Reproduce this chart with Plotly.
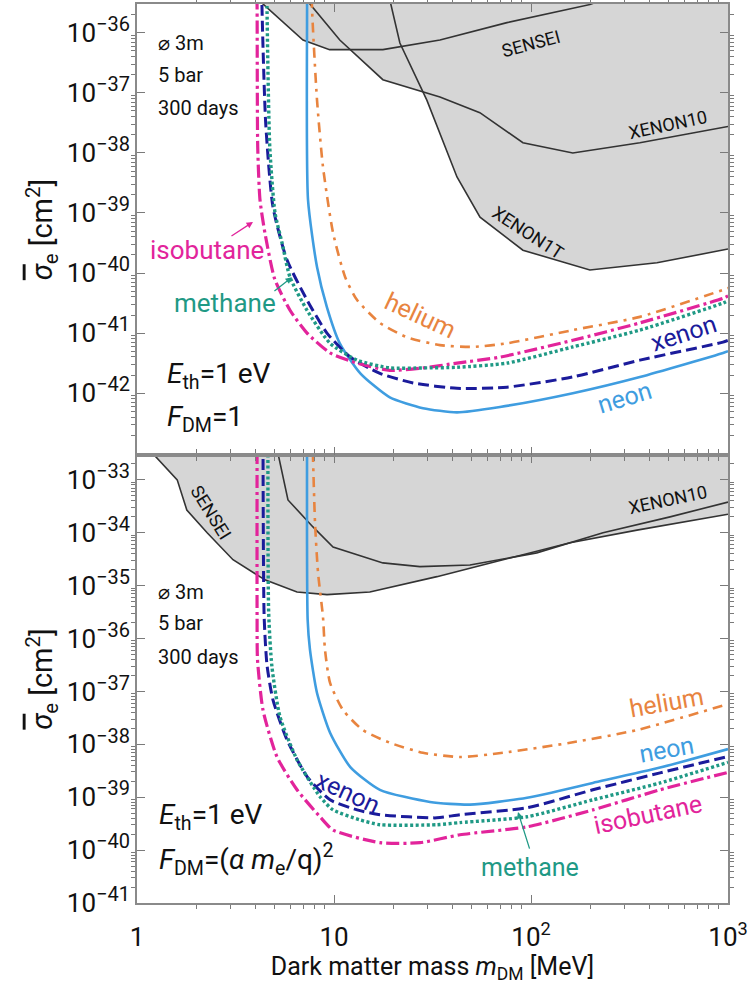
import numpy as np
import plotly.graph_objects as go

# ---------------- data (mass in MeV, log10 of cross-section in cm^2) ----------------
# Top panel: F_DM = 1
top_iso_m   = [4.05, 4.07, 4.10, 4.21, 4.46, 5.0, 5.98, 7.30, 9.55, 13.1, 19.2, 28.3, 42.1, 69.6, 163, 357, 944, 1000]
top_iso_s   = [-35.0, -35.57, -37.9, -38.78, -39.33, -40.1, -40.62, -41.0, -41.33, -41.5, -41.62, -41.58, -41.5, -41.4, -41.12, -40.83, -40.42, -40.38]
top_xe_m    = [4.30, 4.31, 4.50, 4.90, 5.77, 7.30, 9.21, 12.1, 17.1, 25.2, 42.1, 75.5, 163, 357, 944, 1000]
top_xe_s    = [-35.0, -35.57, -37.5, -38.9, -39.78, -40.45, -41.0, -41.4, -41.67, -41.83, -41.92, -41.9, -41.73, -41.45, -41.15, -41.12]
top_me_m    = [4.56, 4.57, 4.72, 5.02, 5.45, 5.98, 7.30, 9.55, 13.1, 19.2, 28.3, 42.1, 75.5, 163, 357, 944, 1000]
top_me_s    = [-35.0, -35.57, -37.9, -39.0, -39.5, -40.07, -40.62, -41.17, -41.45, -41.58, -41.58, -41.57, -41.5, -41.23, -40.95, -40.5, -40.46]
top_ne_m    = [7.30, 7.30, 7.38, 8.20, 9.21, 10.7, 13.6, 19.2, 28.3, 42.1, 69.6, 163, 357, 944, 1000]
top_ne_s    = [-35.0, -35.57, -38.78, -39.9, -40.57, -41.17, -41.67, -42.07, -42.25, -42.32, -42.23, -42.0, -41.73, -41.33, -41.3]
top_he_m    = [7.70, 7.73, 8.20, 8.79, 9.89, 11.4, 13.1, 17.1, 23.5, 34.5, 50.8, 75.5, 163, 357, 944, 1000]
top_he_s    = [-35.0, -35.57, -37.12, -38.23, -39.33, -40.07, -40.45, -40.83, -41.07, -41.2, -41.23, -41.17, -40.95, -40.73, -40.28, -40.25]

top_sensei_m  = [3.6, 4.36, 6.96, 9.5, 17.7, 34.5, 75.5, 199, 300]
top_sensei_s  = [-35.0, -35.52, -36.12, -36.28, -36.28, -36.12, -35.83, -35.53, -35.3]
top_xenon10_m = [6.5, 7.55, 10.7, 17.7, 34.5, 55, 91, 163, 357, 1000]
top_xenon10_s = [-35.0, -35.52, -36.12, -36.78, -37.07, -37.33, -37.83, -38.0, -37.83, -37.56]
top_xenon1t_m = [18.5, 19.2, 21.6, 29.6, 42.1, 55.1, 91, 199, 436, 1000]
top_xenon1t_s = [-35.0, -35.45, -36.17, -37.12, -38.4, -39.07, -39.62, -39.95, -39.83, -39.6]

# Bottom panel: F_DM = (alpha m_e / q)^2
bot_iso_m   = [4.07, 4.07, 4.09, 4.36, 5.14, 6.49, 8.49, 9.89, 17.1, 27.3, 43.6, 95.5, 206, 452, 1000]
bot_iso_s   = [-32.0, -35.59, -36.4, -37.35, -38.24, -38.86, -39.37, -39.62, -39.86, -39.86, -39.71, -39.56, -39.24, -38.86, -38.53]
bot_xe_m    = [4.36, 4.42, 4.57, 4.90, 5.77, 7.30, 9.55, 13.1, 17.1, 33.3, 43.6, 95.5, 206, 452, 1000]
bot_xe_s    = [-32.0, -35.59, -36.5, -37.16, -37.91, -38.61, -39.05, -39.24, -39.33, -39.39, -39.33, -39.20, -38.86, -38.54, -38.23]
bot_me_m    = [4.62, 4.66, 4.84, 5.32, 6.49, 8.49, 9.89, 13.6, 17.1, 33.3, 43.6, 95.5, 206, 452, 1000]
bot_me_s    = [-32.0, -35.51, -36.53, -37.48, -38.29, -38.99, -39.24, -39.43, -39.52, -39.52, -39.48, -39.37, -39.05, -38.73, -38.34]
bot_ne_m    = [7.30, 7.35, 7.55, 8.20, 9.55, 12.1, 17.1, 30.7, 49.0, 95.5, 206, 452, 1000]
bot_ne_s    = [-32.0, -35.65, -36.21, -37.03, -37.78, -38.43, -38.86, -39.09, -39.14, -39.01, -38.73, -38.44, -38.09]
bot_he_m    = [7.75, 8.01, 8.30, 8.79, 9.00, 9.55, 11.1, 14.0, 19.2, 28.3, 43.6, 72.1, 158, 345, 1000]
bot_he_s    = [-32.0, -33.81, -34.76, -35.59, -36.21, -36.84, -37.35, -37.73, -37.97, -38.16, -38.24, -38.16, -37.97, -37.73, -37.24]

bot_sensei_m  = [1.035, 1.60, 1.79, 2.27, 3.07, 4.46, 6.49, 9.21, 15.2, 33.3, 72.1, 158, 345, 1000]
bot_sensei_s  = [-32.24, -33.0, -33.57, -34.0, -34.51, -34.89, -35.12, -35.17, -35.12, -34.83, -34.51, -34.19, -33.95, -33.65]
bot_xenon10_m = [5.02, 5.84, 7.82, 9.89, 17.7, 27.3, 49.0, 107, 232, 508, 1000]
bot_xenon10_s = [-32.24, -33.38, -33.89, -34.27, -34.57, -34.64, -34.61, -34.38, -34.0, -33.70, -33.42]

# ---------------- styles ----------------
C_ISO = "#e2249b"
C_XE = "#1b1b9b"
C_ME = "#1f9985"
C_NE = "#3f9de0"
C_HE = "#e8843f"
C_EXC = "#333333"
C_FILL = "#d6d6d6"
FONT = "Roboto"

fig = go.Figure()

def to_s(v):
    return [10.0 ** x for x in v]

def add_exclusion(m, s, xa, ya, top):
    fig.add_trace(go.Scatter(x=list(m) + [m[-1], m[0]], y=to_s(s) + [10.0 ** top, 10.0 ** top],
                             fill="toself", fillcolor=C_FILL, line=dict(width=0),
                             mode="lines", xaxis=xa, yaxis=ya, hoverinfo="skip"))

def add_exc_line(m, s, xa, ya):
    fig.add_trace(go.Scatter(x=m, y=to_s(s), mode="lines", xaxis=xa, yaxis=ya,
                             line=dict(color=C_EXC, width=1.6), hoverinfo="skip"))

def add_curve(m, s, xa, ya, color, dash, width=3):
    fig.add_trace(go.Scatter(x=m, y=to_s(s), mode="lines", xaxis=xa, yaxis=ya,
                             line=dict(color=color, width=width, dash=dash, shape="spline", smoothing=0.6)))

for m, s in [(top_sensei_m, top_sensei_s), (top_xenon10_m, top_xenon10_s), (top_xenon1t_m, top_xenon1t_s)]:
    add_exclusion(m, s, "x2", "y2", -30)
for m, s in [(top_sensei_m, top_sensei_s), (top_xenon10_m, top_xenon10_s), (top_xenon1t_m, top_xenon1t_s)]:
    add_exc_line(m, s, "x2", "y2")

DASH_ISO = "13px,4px,3px,4px"
DASH_XE = "11px,5px"
DASH_ME = "3px,2.5px"
DASH_HE = "10px,6px,3px,6px"

add_curve(top_he_m, top_he_s, "x2", "y2", C_HE, DASH_HE, 2.6)
add_curve(top_ne_m, top_ne_s, "x2", "y2", C_NE, "solid", 2.6)
add_curve(top_xe_m, top_xe_s, "x2", "y2", C_XE, DASH_XE, 3)
add_curve(top_iso_m, top_iso_s, "x2", "y2", C_ISO, DASH_ISO, 3.2)
add_curve(top_me_m, top_me_s, "x2", "y2", C_ME, DASH_ME, 3.4)

for m, s in [(bot_sensei_m, bot_sensei_s), (bot_xenon10_m, bot_xenon10_s)]:
    add_exclusion(m, s, "x", "y", -28)
for m, s in [(bot_sensei_m, bot_sensei_s), (bot_xenon10_m, bot_xenon10_s)]:
    add_exc_line(m, s, "x", "y")

add_curve(bot_he_m, bot_he_s, "x", "y", C_HE, DASH_HE, 2.6)
add_curve(bot_ne_m, bot_ne_s, "x", "y", C_NE, "solid", 2.6)
add_curve(bot_xe_m, bot_xe_s, "x", "y", C_XE, DASH_XE, 3)
add_curve(bot_iso_m, bot_iso_s, "x", "y", C_ISO, DASH_ISO, 3.2)
add_curve(bot_me_m, bot_me_s, "x", "y", C_ME, DASH_ME, 3.4)

# ---------------- axes ----------------
xdec = [1, 10, 100, 1000]
xdec_text = ["1", "10", "10<sup>2</sup>", "10<sup>3</sup>"]
xminor = [k * d for d in [1, 10, 100] for k in range(2, 10)]

def ydecs(lo, hi):
    vals = [10.0 ** e for e in range(lo, hi + 1)]
    txt = ["10<sup><span style='font-size:20px'>\u2212%d</span></sup>" % (-e) for e in range(lo, hi + 1)]
    minor = [k * 10.0 ** e for e in range(lo - 1, hi + 1) for k in range(2, 10)]
    return vals, txt, minor

AX = dict(type="log", showgrid=False, zeroline=False, ticks="inside", ticklen=8, tickwidth=1.2,
          tickcolor="#7a7a7a", showline=True, linecolor="#8a8a8a", linewidth=1.6, mirror="allticks",
          tickfont=dict(family=FONT, size=26, color="#111"))
MINOR = dict(ticklen=4, tickwidth=1, tickcolor="#7a7a7a", showgrid=False)

YTITLE = "<i><span style='text-decoration:overline'>\u03c3</span></i><sub>e</sub> [cm<sup>2</sup>]"

split = 448 / 899
fig.update_layout(
    xaxis=dict(AX, range=[0, 3], domain=[0, 1], anchor="y", tickmode="array", tickvals=xdec, ticktext=xdec_text,
               minor=dict(MINOR, tickmode="array", tickvals=xminor), ticklabelstandoff=10,
               title=dict(text="Dark matter mass <i>m</i><sub>DM</sub> [MeV]", font=dict(family=FONT, size=25, color="#111"), standoff=2)),
    xaxis2=dict(AX, range=[0, 3], domain=[0, 1], anchor="y2", tickmode="array", tickvals=xdec, showticklabels=False,
                minor=dict(MINOR, tickmode="array", tickvals=xminor), matches="x"),
)
yv, yt, ym = ydecs(-41, -33)
fig.update_layout(yaxis=dict(AX, range=[-41, -32.53], domain=[0, split], anchor="x", tickmode="array",
                             tickvals=yv, ticktext=yt, minor=dict(MINOR, tickmode="array", tickvals=ym),
                             title=dict(text=YTITLE, font=dict(family=FONT, size=29, color="#111"), standoff=6)))
yv2, yt2, ym2 = ydecs(-42, -36)
fig.update_layout(yaxis2=dict(AX, range=[-43.03, -35.52], domain=[split, 1], anchor="x2", tickmode="array",
                              tickvals=yv2, ticktext=yt2, minor=dict(MINOR, tickmode="array", tickvals=ym2),
                              title=dict(text=YTITLE, font=dict(family=FONT, size=29, color="#111"), standoff=6)))

# ---------------- annotations ----------------
ann = []
LBL = 25
EXC = 18

def txt(xa, ya, x, y, text, color="#111", size=16, angle=0, xanchor="center"):
    ann.append(dict(xref=xa, yref=ya, x=x, y=y, text=text, showarrow=False, textangle=angle,
                    xanchor=xanchor, yanchor="middle", font=dict(family=FONT, size=size, color=color)))

def arrow(xa, ya, hx, hy, tx, ty, color):
    ann.append(dict(xref=xa, yref=ya, axref=xa, ayref=ya, x=hx, y=hy, ax=tx, ay=ty, text="",
                    showarrow=True, arrowhead=2, arrowsize=1, arrowwidth=1.3, arrowcolor=color))

# top panel
txt("x2", "y2", 0.095, -36.17, "\u2300 3m", size=20, xanchor="left")
txt("x2", "y2", 0.095, -36.70, "5 bar", size=20, xanchor="left")
txt("x2", "y2", 0.095, -37.25, "300 days", size=20, xanchor="left")
txt("x2", "y2", 0.140, -41.70, "<i>E</i><sub>th</sub>=1 eV", size=28, xanchor="left")
txt("x2", "y2", 0.140, -42.42, "<i>F</i><sub>DM</sub>=1", size=28, xanchor="left")
txt("x2", "y2", 0.355, -39.62, "isobutane", C_ISO, LBL + 1)
txt("x2", "y2", 0.447, -40.50, "methane", C_ME, LBL + 1)
arrow("x2", "y2", 0.589, -39.15, 0.472, -39.40, C_ISO)
arrow("x2", "y2", 0.787, -40.07, 0.690, -40.32, C_ME)
txt("x2", "y2", 1.437, -40.70, "helium", C_HE, LBL, 25)
txt("x2", "y2", 2.772, -41.0, "xenon", C_XE, LBL, -18)
txt("x2", "y2", 2.477, -42.07, "neon", C_NE, LBL, -17)
txt("x2", "y2", 2.000, -36.17, "SENSEI", "#111", EXC, -15)
txt("x2", "y2", 2.695, -37.53, "XENON10", "#111", EXC, -12)
txt("x2", "y2", 1.985, -39.32, "XENON1T", "#111", EXC, 33)

# bottom panel
txt("x", "y", 0.095, -35.12, "\u2300 3m", size=20, xanchor="left")
txt("x", "y", 0.095, -35.70, "5 bar", size=20, xanchor="left")
txt("x", "y", 0.095, -36.35, "300 days", size=20, xanchor="left")
txt("x", "y", 0.100, -39.37, "<i>E</i><sub>th</sub>=1 eV", size=28, xanchor="left")
txt("x", "y", 0.100, -40.18, "<i>F</i><sub>DM</sub>=(<i>\u03b1 m</i><sub>e</sub>/q)<sup>2</sup>", size=28, xanchor="left")
txt("x", "y", 0.376, -33.62, "SENSEI", "#111", EXC, 58)
txt("x", "y", 2.695, -33.38, "XENON10", "#111", EXC, -12)
txt("x", "y", 1.071, -38.92, "xenon", C_XE, LBL, 25)
txt("x", "y", 2.690, -37.20, "helium", C_HE, LBL, -10)
txt("x", "y", 2.690, -38.10, "neon", C_NE, LBL, -10)
txt("x", "y", 2.594, -39.33, "isobutane", C_ISO, LBL, -12)
txt("x", "y", 1.995, -40.32, "methane", C_ME, LBL)
arrow("x", "y", 1.934, -39.28, 1.995, -40.0, C_ME)

fig.update_layout(
    width=749, height=992, showlegend=False,
    margin=dict(l=137, r=21, t=4, b=89, autoexpand=False),
    paper_bgcolor="white", plot_bgcolor="white",
    annotations=ann,
    font=dict(family=FONT),
)

fig.write_html("out.html")
